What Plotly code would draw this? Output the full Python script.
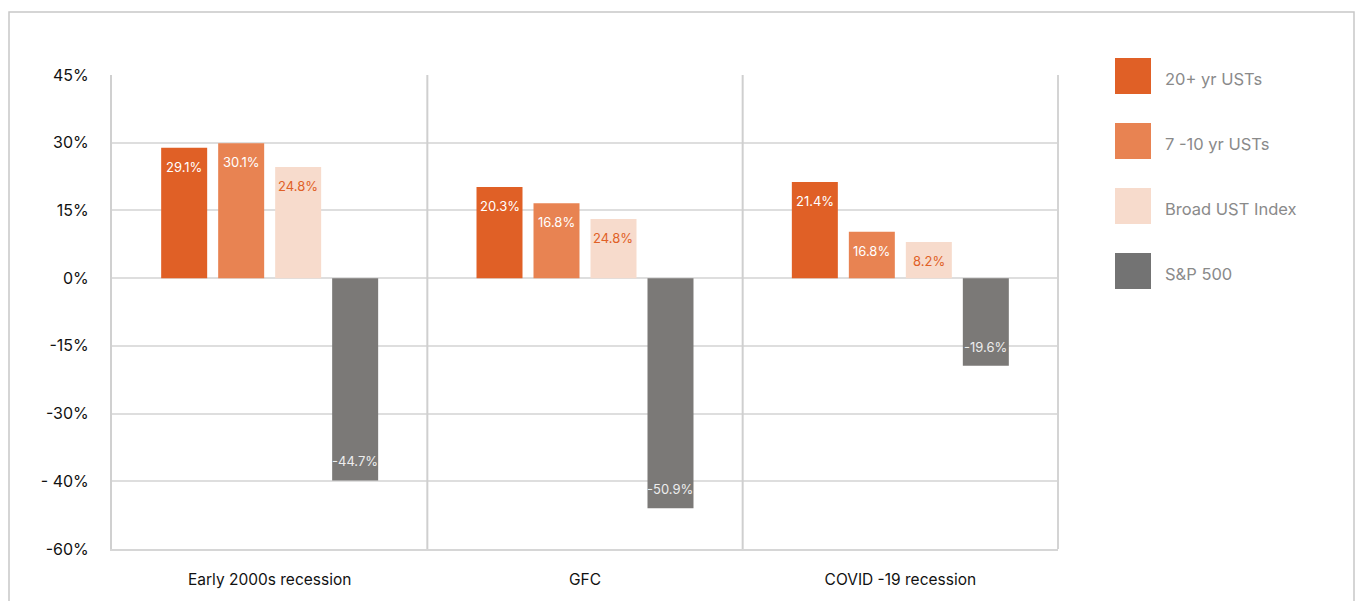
import plotly.graph_objects as go

categories = ["Early 2000s recession", "GFC", "COVID -19 recession"]
series_names = ["20+ yr USTs", "7 -10 yr USTs", "Broad UST Index", "S&P 500"]
# bar heights as drawn in the picture
values = [
    [28.9, 20.2, 21.3],
    [29.9, 16.6, 10.3],
    [24.6, 13.1, 8.0],
    [-44.8, -51.0, -19.4],
]
# printed labels as shown in the picture
labels = [
    ["29.1%", "20.3%", "21.4%"],
    ["30.1%", "16.8%", "16.8%"],
    ["24.8%", "24.8%", "8.2%"],
    ["-44.7%", "-50.9%", "-19.6%"],
]
tick_vals = [45, 30, 15, 0, -15, -30, -45, -60]
tick_text = ["45%", "30%", "15%", "0%", "-15%", "-30%", "- 40%", "-60%"]

colors = ["#E06026", "#E88352", "#F7DBCC", "#7B7977"]
legend_colors = ["#E06026", "#E88352", "#F7DBCC", "#737373"]
label_colors = ["#FFFFFF", "#FFFFFF", "#E06026", "#EDEDED"]

FONT = "Inter, Roboto, sans-serif"
W, H = 1357, 601
L, T, R, B = 112, 75, 299, 52
PW, PH = W - L - R, H - T - B

def px_x(px):
    return (px - L) / PW

def px_y(py):
    return (H - B - py) / PH

fig = go.Figure()
for i, name in enumerate(series_names):
    fig.add_trace(go.Bar(
        x=categories, y=values[i], name=name,
        marker=dict(color=colors[i], line=dict(width=0)),
        showlegend=False, hoverinfo="skip",
    ))

annotations = []
slot = PW / 3 * (1 - 0.277) / 4
for i in range(4):
    for j, c in enumerate(categories):
        v = values[i][j]
        annotations.append(dict(
            x=c, y=v, xref="x", yref="y", text=labels[i][j], showarrow=False,
            xshift=(i - 1.5) * slot, yshift=-19 if v > 0 else 19,
            font=dict(family=FONT, size=13, color=label_colors[i]),
        ))

shapes = []
# category separators
for xs in [0.5, 1.5]:
    shapes.append(dict(type="line", xref="x", yref="paper", x0=xs, x1=xs, y0=0, y1=1,
                       line=dict(color="#CFCFCF", width=2)))
shapes.append(dict(type="line", xref="paper", yref="paper", x0=1, x1=1, y0=0, y1=1,
                   line=dict(color="#D4D4D4", width=2)))
# outer border
shapes.append(dict(type="rect", xref="paper", yref="paper",
                   x0=px_x(9), x1=px_x(1354), y0=px_y(620), y1=px_y(12),
                   line=dict(color="#C8C8C8", width=1.5), layer="below"))
# legend
centers = [76, 141, 206, 271]
for i, name in enumerate(series_names):
    cy = centers[i]
    shapes.append(dict(type="rect", xref="paper", yref="paper",
                       x0=px_x(1115), x1=px_x(1151), y0=px_y(cy + 18), y1=px_y(cy - 18),
                       fillcolor=legend_colors[i], line=dict(width=0)))
    annotations.append(dict(x=px_x(1163), y=px_y(cy + 3), xref="paper", yref="paper",
                            text=name, showarrow=False, xanchor="left", yanchor="middle",
                            font=dict(family=FONT, size=16.5, color="#8A8A8A")))

fig.update_layout(
    width=W, height=H,
    margin=dict(l=L, r=R, t=T, b=B, pad=0),
    paper_bgcolor="white", plot_bgcolor="white",
    barmode="group", bargap=0.277, bargroupgap=0.193,
    font=dict(family=FONT, size=16, color="#111111"),
    shapes=shapes, annotations=annotations,
    showlegend=False,
)
fig.update_yaxes(
    range=[-60, 45], tickmode="array", tickvals=tick_vals, ticktext=tick_text,
    showgrid=True, gridcolor="#DEDEDE", gridwidth=1.5, zeroline=False,
    showline=True, linecolor="#D0D0D0", linewidth=2,
    ticks="", ticklabelstandoff=18,
    tickfont=dict(family=FONT, size=16, color="#111111"),
)
fig.update_xaxes(
    showgrid=False, showline=True, linecolor="#D6D6D6", linewidth=2,
    ticks="", ticklabelstandoff=15,
    tickfont=dict(family=FONT, size=15.5, color="#111111"),
)

fig.write_html("out.html")
